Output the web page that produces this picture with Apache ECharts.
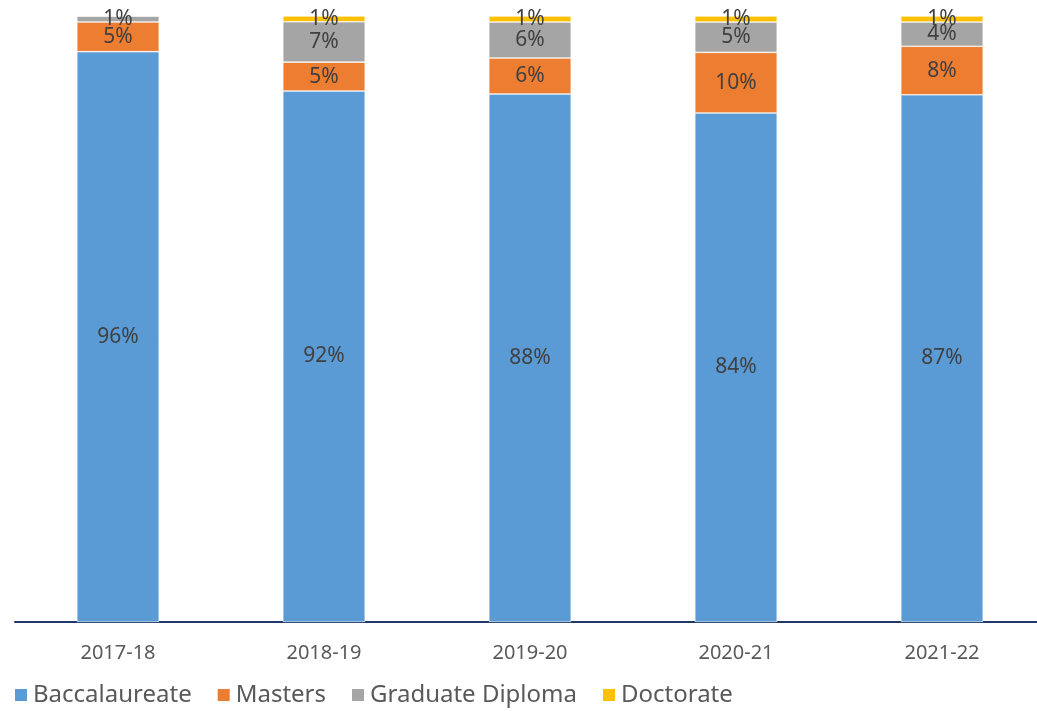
<!DOCTYPE html>
<html>
<head>
<meta charset="utf-8">
<script src="https://cdn.jsdelivr.net/npm/echarts@6/dist/echarts.min.js"></script>
<style>
  html, body { margin: 0; padding: 0; background: #fff; }
  #chart { width: 1037px; height: 711px; }
</style>
</head>
<body>
<div id="chart"></div>
<script>
// data (label percentages)
var years = ['2017-18', '2018-19', '2019-20', '2020-21', '2021-22'];
var baccalaureate = [96, 92, 88, 84, 87];
var masters = [5, 5, 6, 10, 8];
var gradDiploma = [1, 7, 6, 5, 4];
var doctorate = [0, 1, 1, 1, 1];

var seriesNames = ['Baccalaureate', 'Masters', 'Graduate Diploma', 'Doctorate'];
var seriesColors = ['#5B9BD5', '#ED7D31', '#A5A5A5', '#FFC000'];
var raw = [baccalaureate, masters, gradDiploma, doctorate];

// 100% stacked: each column scaled to its total
var totals = [];
for (var i = 0; i < years.length; i++) {
    var t = 0;
    for (var j = 0; j < raw.length; j++) t += raw[j][i];
    totals.push(t);
}

var series = [];
for (var j = 0; j < raw.length; j++) {
    var d = [];
    for (var i = 0; i < years.length; i++) {
        d.push({ value: raw[j][i] / totals[i] * 100, raw: raw[j][i] });
    }
    series.push({
        name: seriesNames[j],
        type: 'bar',
        stack: 'total',
        barWidth: '40%',
        data: d,
        itemStyle: { color: seriesColors[j], borderColor: '#fff', borderWidth: 0.6 },
        label: {
            show: true,
            position: 'inside',
            color: '#404040',
            fontSize: 21,
            fontFamily: 'Noto Sans',
            formatter: function(p) {
                return p.data.raw ? p.data.raw + '%' : '';
            }
        }
    });
}

var chart = echarts.init(document.getElementById('chart'));
chart.setOption({
    animation: false,
    grid: { left: 15, width: 1030, top: 16, bottom: 89, outerBoundsMode: 'none', containLabel: false },
    legend: {
        left: 8,
        top: 678,
        itemWidth: 14,
        itemHeight: 14,
        itemGap: 24,
        icon: 'rect',
        textStyle: { fontSize: 24, color: '#595959', fontFamily: 'Noto Sans' },
        data: seriesNames
    },
    xAxis: {
        type: 'category',
        data: years,
        axisLine: { lineStyle: { color: '#203864', width: 2 } },
        axisTick: { show: false },
        axisLabel: { color: '#595959', fontSize: 20, margin: 21, fontFamily: 'Noto Sans' }
    },
    yAxis: {
        type: 'value',
        min: 0,
        max: 100,
        show: false,
        splitLine: { show: false }
    },
    series: series
});
</script>
</body>
</html>
